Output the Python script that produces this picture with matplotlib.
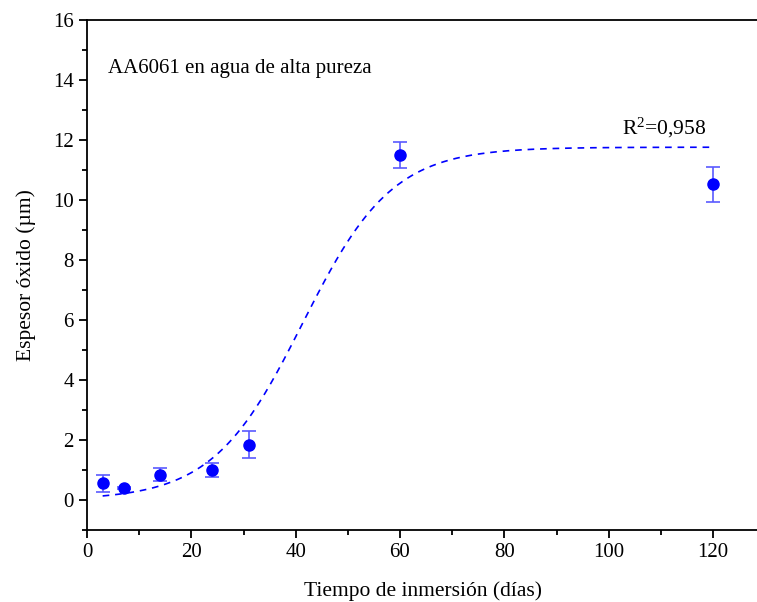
import numpy as np
import matplotlib
matplotlib.use("Agg")
import matplotlib.pyplot as plt
from matplotlib.ticker import MultipleLocator

# Data
dias = [3, 7, 14, 24, 31, 60, 120]
espesor = [0.56, 0.40, 0.85, 1.00, 1.85, 11.50, 10.52]
error = [0.29, 0.04, 0.21, 0.245, 0.455, 0.43, 0.57]

# Boltzmann fit parameters
A1 = 0.0
A2 = 11.76
x0 = 41.3
dx = 8.6
r2_text = "0,958"

plt.rcParams['font.family'] = ['Liberation Serif', 'DejaVu Serif']
plt.rcParams['mathtext.fontset'] = 'custom'
plt.rcParams['mathtext.rm'] = 'Liberation Serif'
plt.rcParams['mathtext.it'] = 'Liberation Serif'
plt.rcParams['mathtext.bf'] = 'Liberation Serif'

fig = plt.figure(figsize=(7.57, 6.02), dpi=100)
ax = fig.add_axes([87/757, 72/602, (759-87)/757, (530-20)/602])

xf = np.linspace(min(dias), max(dias), 400)
yf = A2 + (A1 - A2) / (1 + np.exp((xf - x0) / dx))
ax.plot(xf, yf, color='#0000ff', lw=1.2, dashes=(4, 3.5))

ax.errorbar(dias, espesor, yerr=error, fmt='none', ecolor='#5a5aff',
            elinewidth=1.2, capsize=5, capthick=1.2)
ax.plot(dias, espesor, 'o', color='#0000ff', ms=8, zorder=5)

ax.set_xlim(0, (759-87)/(713-87)*120)
ax.set_ylim(-1, 16)
ax.xaxis.set_major_locator(MultipleLocator(20))
ax.xaxis.set_minor_locator(MultipleLocator(10))
ax.yaxis.set_major_locator(MultipleLocator(2))
ax.yaxis.set_minor_locator(MultipleLocator(1))
ax.tick_params(which='major', direction='out', length=6, width=1.3, labelsize=15)
ax.tick_params(which='minor', direction='out', length=3.5, width=1.3)
for s in ax.spines.values():
    s.set_linewidth(1.3)

ax.set_xlabel('Tiempo de inmersión (días)', fontsize=15.5, labelpad=14)
ax.set_ylabel('Espesor óxido (µm)', fontsize=15.5, labelpad=12)

ax.text(4.0, 14.4, 'AA6061 en agua de alta pureza', fontsize=15, va='center', ha='left')
ax.text(102.5, 12.2, r'R$^{2}$=' + r2_text, fontsize=15.5, va='baseline', ha='left')

fig.savefig('out.png', dpi=100)
